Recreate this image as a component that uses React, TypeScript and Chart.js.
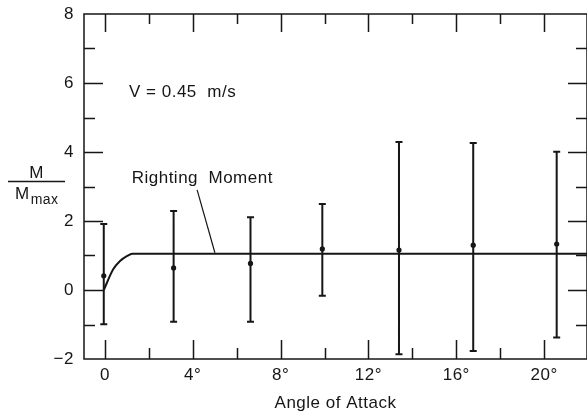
import React, { useEffect, useRef } from 'react';
import { Chart, registerables } from 'chart.js';

Chart.register(...registerables);

// ---- data ----
const ANGLES = [-0.05, 3.13, 6.63, 9.9, 13.39, 16.77, 20.57];
const MEAN = [0.41, 0.64, 0.77, 1.19, 1.16, 1.3, 1.33];
const LOW = [-0.99, -0.92, -0.92, -0.17, -1.86, -1.77, -1.38];
const HIGH = [1.91, 2.29, 2.11, 2.49, 4.29, 4.26, 4.01];

const MOMENT_ANGLE = [-0.05, 0.38, 0.69, 1.0, 1.25, 21.95];
const MOMENT_VALUE = [0, 0.6, 0.84, 0.98, 1.05, 1.05];

const X_TICKS = [0, 4, 8, 12, 16, 20];
const X_TICK_LABELS = ['0', '4°', '8°', '12°', '16°', '20°'];
const X_MARKS = [0, 2, 4, 6, 8, 10, 12, 14, 16, 18, 20];
const Y_TICKS = [-2, 0, 2, 4, 6, 8];
const Y_TICK_LABELS = ['−2', '0', '2', '4', '6', '8'];
const Y_MARKS = [-1, 0, 1, 2, 3, 4, 5, 6, 7];

const FONT = '"Liberation Sans", Arial, Helvetica, sans-serif';
const INK = '#161616';

const framePlugin = {
  id: 'framePlugin',
  beforeDraw(chart: any) {
    const ctx = chart.ctx;
    ctx.save();
    ctx.fillStyle = '#ffffff';
    ctx.fillRect(0, 0, chart.width, chart.height);
    ctx.restore();
    try { ctx.letterSpacing = '0.5px'; } catch (e) { /* ignore */ }
  },
  afterDatasetsDraw(chart: any) {
    const { ctx, chartArea: a, scales } = chart;
    const x = scales.x;
    const y = scales.y;
    ctx.save();
    ctx.strokeStyle = INK;
    ctx.fillStyle = INK;
    ctx.lineCap = 'butt';

    // frame
    ctx.lineWidth = 1.5;
    ctx.strokeRect(a.left, a.top, a.right - a.left, a.bottom - a.top);

    // inward ticks
    ctx.beginPath();
    for (const v of X_MARKS) {
      const px = Math.round(x.getPixelForValue(v)) + 0.5;
      const len = v % 4 === 0 ? 19 : 11;
      ctx.moveTo(px, a.bottom);
      ctx.lineTo(px, a.bottom - len);
      ctx.moveTo(px, a.top);
      ctx.lineTo(px, a.top + (v % 4 === 0 ? 18 : 10));
    }
    for (const v of Y_MARKS) {
      const py = Math.round(y.getPixelForValue(v)) + 0.5;
      const len = v % 2 === 0 ? 19 : 11;
      ctx.moveTo(a.left, py);
      ctx.lineTo(a.left + len, py);
      ctx.moveTo(a.right, py);
      ctx.lineTo(a.right - len, py);
    }
    ctx.lineWidth = 1.5;
    ctx.stroke();

    // error bars
    ctx.lineWidth = 2;
    ctx.beginPath();
    for (let i = 0; i < ANGLES.length; i++) {
      const px = x.getPixelForValue(ANGLES[i]);
      const top = y.getPixelForValue(HIGH[i]);
      const bot = y.getPixelForValue(LOW[i]);
      ctx.moveTo(px, top);
      ctx.lineTo(px, bot);
      ctx.moveTo(px - 3.5, top);
      ctx.lineTo(px + 3.5, top);
      ctx.moveTo(px - 3.5, bot);
      ctx.lineTo(px + 3.5, bot);
    }
    ctx.stroke();

    // annotations
    try { ctx.letterSpacing = '0.5px'; } catch (e) { /* ignore */ }
    ctx.font = `17px ${FONT}`;
    ctx.textBaseline = 'alphabetic';
    ctx.textAlign = 'left';
    ctx.fillText('V = 0.45  m/s', x.getPixelForValue(1.1), y.getPixelForValue(5.6));
    ctx.fillText('Righting  Moment', x.getPixelForValue(1.22), y.getPixelForValue(3.1));

    // leader line
    ctx.lineWidth = 1.2;
    ctx.beginPath();
    ctx.moveTo(x.getPixelForValue(4.2), y.getPixelForValue(2.9));
    ctx.lineTo(x.getPixelForValue(5.01), y.getPixelForValue(1.08));
    ctx.stroke();

    // y-axis title as a fraction: M / Mmax
    ctx.textAlign = 'center';
    ctx.font = `17px ${FONT}`;
    ctx.fillText('M', 36.5, 177.5);
    ctx.lineWidth = 1.5;
    ctx.beginPath();
    ctx.moveTo(8, 181.5);
    ctx.lineTo(65, 181.5);
    ctx.stroke();
    ctx.textAlign = 'left';
    ctx.font = `17px ${FONT}`;
    const mW = ctx.measureText('M').width;
    ctx.fillText('M', 15, 198.5);
    ctx.font = `14px ${FONT}`;
    ctx.fillText('max', 15 + mW + 1, 203.5);

    ctx.restore();
  },
};

export default function App() {
  const ref = useRef<HTMLCanvasElement>(null);

  useEffect(() => {
    const canvas = ref.current;
    if (!canvas) return;
    const chart = new Chart(canvas, {
      type: 'scatter',
      data: {
        datasets: [
          {
            label: 'Righting Moment',
            data: MOMENT_ANGLE.map((v, i) => ({ x: v, y: MOMENT_VALUE[i] })),
            showLine: true,
            borderColor: INK,
            borderWidth: 2,
            pointRadius: 0,
            cubicInterpolationMode: 'monotone',
            fill: false,
          } as any,
          {
            label: 'Measured',
            data: ANGLES.map((v, i) => ({ x: v, y: MEAN[i] })),
            showLine: false,
            pointRadius: 2.6,
            backgroundColor: INK,
            borderColor: INK,
            borderWidth: 0,
          } as any,
        ],
      },
      options: {
        responsive: false,
        animation: false,
        events: [],
        layout: { autoPadding: false, padding: { top: 14, right: 0, bottom: 0, left: 0 } },
        plugins: {
          legend: { display: false },
          tooltip: { enabled: false },
        },
        scales: {
          x: {
            type: 'linear',
            min: -0.95,
            max: 21.95,
            grid: { display: false, drawTicks: false },
            border: { display: false },
            afterBuildTicks: (s: any) => {
              s.ticks = X_TICKS.map((v) => ({ value: v }));
            },
            afterFit: (s: any) => {
              s.height = 59;
              s.paddingLeft = 0;
              s.paddingRight = 0;
            },
            ticks: {
              callback: (v: any) => {
                const i = X_TICKS.indexOf(Number(v));
                return i >= 0 ? X_TICK_LABELS[i] : '';
              },
              padding: 6,
              maxRotation: 0,
              autoSkip: false,
              color: INK,
              font: { family: FONT, size: 17 },
            },
            title: {
              display: true,
              text: 'Angle of Attack',
              color: INK,
              font: { family: FONT, size: 17 },
              padding: { top: 0, bottom: 4 },
            },
          },
          y: {
            type: 'linear',
            min: -2,
            max: 8,
            grid: { display: false, drawTicks: false },
            border: { display: false },
            afterBuildTicks: (s: any) => {
              s.ticks = Y_TICKS.map((v) => ({ value: v }));
            },
            afterFit: (s: any) => {
              s.width = 84;
              s.paddingTop = 0;
              s.paddingBottom = 0;
            },
            ticks: {
              callback: (v: any) => {
                const i = Y_TICKS.indexOf(Number(v));
                return i >= 0 ? Y_TICK_LABELS[i] : '';
              },
              padding: 10,
              autoSkip: false,
              color: INK,
              font: { family: FONT, size: 17 },
            },
          },
        },
      } as any,
      plugins: [framePlugin],
    });
    return () => chart.destroy();
  }, []);

  return (
    <canvas
      ref={ref}
      width={587}
      height={418}
      style={{ position: 'absolute', left: 0, top: 0, display: 'block' }}
    />
  );
}
